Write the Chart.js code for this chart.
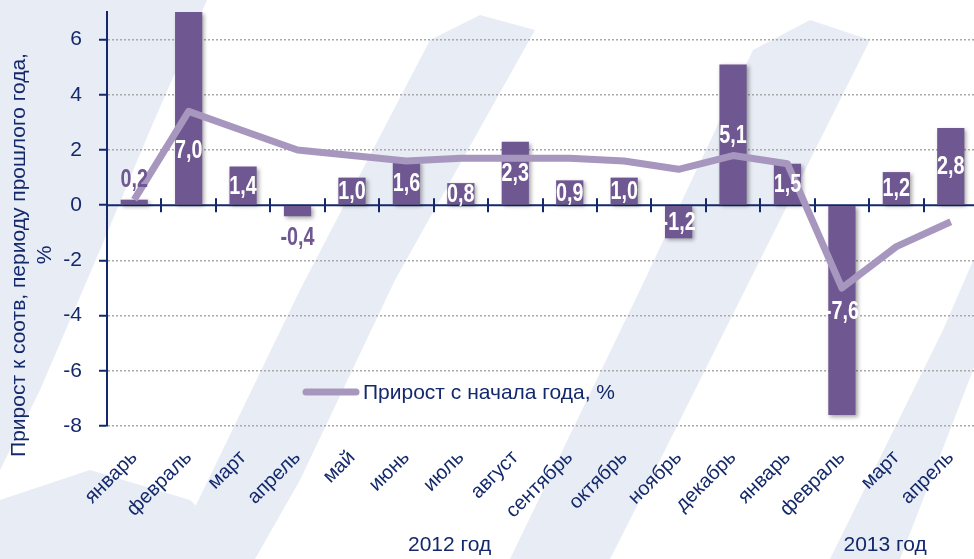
<!DOCTYPE html>
<html>
<head>
<meta charset="utf-8">
<script src="https://cdn.jsdelivr.net/npm/chart.js@4.4.1/dist/chart.umd.min.js"></script>
<style>
  html, body { margin: 0; padding: 0; overflow: hidden; background: #fff; }
  #wrap { width: 982px; height: 559px; }
</style>
</head>
<body>
<div id="wrap"><canvas id="growthChart" width="982" height="559"></canvas></div>
<script>
const months = [
  "январь", "февраль", "март", "апрель", "май", "июнь", "июль", "август",
  "сентябрь", "октябрь", "ноябрь", "декабрь", "январь", "февраль", "март", "апрель",
];
// прирост к соотв. периоду прошлого года, %
const monthlyGrowth = [0.2, 7.0, 1.4, -0.4, 1.0, 1.6, 0.8, 2.3, 0.9, 1.0, -1.2, 5.1, 1.5, -7.6, 1.2, 2.8];
// прирост с начала года, %
const ytdGrowth = [0.2, 3.4, 2.7, 2.0, 1.8, 1.6, 1.7, 1.7, 1.7, 1.6, 1.3, 1.8, 1.5, -3.0, -1.5, -0.6];
const yTicks = [-8, -6, -4, -2, 0, 2, 4, 6];
const years = ["2012 год", "2013 год"];
const monthsPerYear = [12, 4];

const NAVY = "#13296b";
const BAR = "#6f5791";
const LINE = "#a797bf";
const SHADE = "#e8ecf5";
const FONT = "'Liberation Sans', Arial, sans-serif";

const fmt = (v) => v.toFixed(1).replace(".", ",");

// faint watermark stripes behind the plot
const backdrop = {
  id: "backdrop",
  beforeDraw(chart) {
    const c = chart.ctx;
    c.save();
    c.fillStyle = "#fff";
    c.fillRect(0, 0, chart.width, chart.height);
    c.fillStyle = SHADE;
    const shapes = [
      [[0, 0], [207, 0], [150, 130], [100, 250], [40, 390], [0, 470]],
      [[430, 40], [480, 15], [535, 30], [395, 280], [300, 480], [255, 559], [170, 559], [300, 290]],
      [[753, 50], [810, 20], [870, 40], [740, 300], [640, 500], [610, 559], [510, 559], [640, 290]],
      [[1060, 60], [1000, 300], [950, 430], [900, 559], [830, 559], [943, 330]],
      [[0, 500], [90, 470], [190, 500], [250, 559], [0, 559]],
    ];
    shapes.forEach((pts) => {
      c.beginPath();
      pts.forEach(([x, y], i) => (i ? c.lineTo(x, y) : c.moveTo(x, y)));
      c.closePath();
      c.fill();
    });
    c.restore();
  },
};

// zero axis with crossing ticks, drawn under the bars
const zeroAxis = {
  id: "zeroAxis",
  beforeDatasetsDraw(chart) {
    const { ctx: c, chartArea: a, scales: { x, y } } = chart;
    const y0 = y.getPixelForValue(0);
    const step = x.getPixelForValue(1) - x.getPixelForValue(0);
    c.save();
    c.strokeStyle = NAVY;
    c.lineWidth = 2;
    c.beginPath();
    c.moveTo(a.left, y0);
    c.lineTo(a.right, y0);
    for (let i = 0; i < months.length - 1; i++) {
      const px = Math.round(x.getPixelForValue(i) + step / 2);
      c.moveTo(px, y0 - 7);
      c.lineTo(px, y0 + 7);
    }
    c.stroke();
    c.restore();
  },
};

// drop shadow for the bars
const barShadow = {
  id: "barShadow",
  beforeDatasetDraw(chart, args) {
    if (args.meta.type !== "bar") return;
    const c = chart.ctx;
    c.save();
    c.shadowColor = "rgba(0,0,0,0.35)";
    c.shadowBlur = 4;
    c.shadowOffsetX = 2;
    c.shadowOffsetY = 2;
  },
  afterDatasetDraw(chart, args) {
    if (args.meta.type === "bar") chart.ctx.restore();
  },
};

// condensed bold text, like the narrow font of the original
function narrowText(c, text, x, y) {
  c.save();
  c.translate(x, y);
  c.scale(0.76, 1);
  c.fillText(text, 0, 0);
  c.restore();
}

// value labels, axis title, year captions and legend
const annotations = {
  id: "annotations",
  afterDraw(chart) {
    const { ctx: c, scales: { x } } = chart;
    c.save();
    c.textBaseline = "middle";

    // bar labels (moved below the line when they would sit on it)
    const bars = chart.getDatasetMeta(1).data;
    const pts = chart.getDatasetMeta(0).data;
    c.font = "bold 26px " + FONT;
    c.textAlign = "center";
    bars.forEach((bar, i) => {
      const v = monthlyGrowth[i];
      if (Math.abs(v) >= 0.5) {
        let ly = (bar.y + bar.base) / 2 + 1;
        if (Math.abs(ly - pts[i].y) < 15) ly = pts[i].y + 39;
        c.fillStyle = "#fff";
        narrowText(c, fmt(v), bar.x, ly);
      } else {
        c.fillStyle = BAR;
        narrowText(c, fmt(v), bar.x, v >= 0 ? bar.y - 20 : bar.y + 22);
      }
    });

    // y axis title
    c.font = "21px " + FONT;
    c.fillStyle = NAVY;
    c.save();
    c.translate(19, 255);
    c.rotate(-Math.PI / 2);
    c.fillText("Прирост к соотв, периоду прошлого года,", 0, 0);
    c.fillText("%", 0, 26);
    c.restore();

    // year captions
    let start = 0;
    years.forEach((label, k) => {
      const end = start + monthsPerYear[k] - 1;
      const cx = (x.getPixelForValue(start) + x.getPixelForValue(end)) / 2 + 16;
      c.fillText(label, cx, 545);
      start = end + 1;
    });

    // legend
    c.strokeStyle = LINE;
    c.lineWidth = 7;
    c.lineCap = "round";
    c.beginPath();
    c.moveTo(306, 392);
    c.lineTo(356, 392);
    c.stroke();
    c.textAlign = "left";
    c.fillText("Прирост с начала года, %", 363, 393);
    c.restore();
  },
};

const ctx = document.getElementById("growthChart");

new Chart(ctx, {
  data: {
    labels: months,
    datasets: [
      {
        type: "line",
        label: "Прирост с начала года, %",
        data: ytdGrowth,
        borderColor: LINE,
        borderWidth: 7,
        borderJoinStyle: "round",
        pointRadius: 0,
        order: 0,
      },
      {
        type: "bar",
        label: "Прирост к соотв. периоду прошлого года, %",
        data: monthlyGrowth,
        backgroundColor: BAR,
        categoryPercentage: 0.5,
        barPercentage: 1,
        order: 1,
      },
    ],
  },
  options: {
    responsive: false,
    animation: false,
    layout: { padding: { top: 0, right: 4, left: 0, bottom: 0 } },
    plugins: {
      legend: { display: false },
      tooltip: { enabled: false },
    },
    scales: {
      x: {
        grid: { display: false },
        border: { display: false },
        ticks: {
          minRotation: 45,
          maxRotation: 45,
          padding: 12,
          color: NAVY,
          font: { family: FONT, size: 20 },
        },
        afterFit: (s) => { s.height = 133; },
      },
      y: {
        min: -8,
        max: 7,
        afterBuildTicks: (s) => { s.ticks = yTicks.map((v) => ({ value: v })); },
        ticks: {
          padding: 17,
          color: NAVY,
          font: { family: FONT, size: 21 },
        },
        grid: {
          color: (c) => (c.tick && c.tick.value === 0 ? "rgba(0,0,0,0)" : "#a9a9a9"),
          lineWidth: 1.5,
          tickLength: 8,
          tickColor: NAVY,
          tickWidth: 2,
        },
        border: { display: true, color: NAVY, width: 2, dash: [2, 2] },
        afterFit: (s) => {
          s.width = 107;
          s.paddingTop = 12;
          s.paddingBottom = 0;
        },
      },
    },
  },
  plugins: [backdrop, zeroAxis, barShadow, annotations],
});
</script>
</body>
</html>
